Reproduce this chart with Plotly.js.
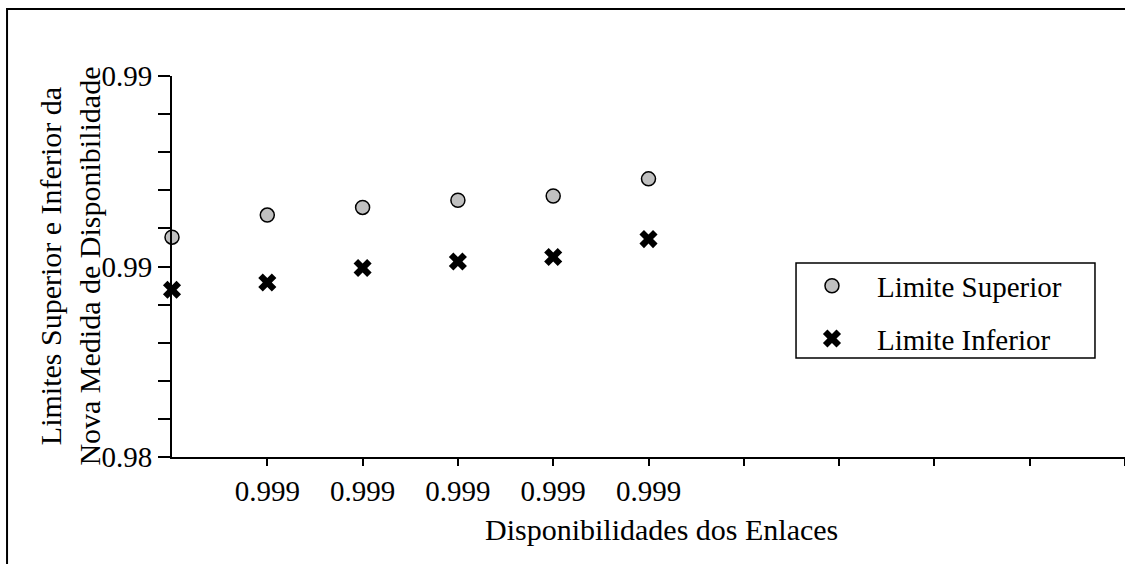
<!DOCTYPE html>
<html>
<head>
<meta charset="utf-8">
<script src="https://cdn.plot.ly/plotly-3.0.1.min.js"></script>
<style>html,body{margin:0;padding:0;background:#fff;}#chart{width:1125px;height:564px;}</style>
</head>
<body>
<div id="chart"></div>
<script>
// ---- data ----
const xPositions = [0, 1, 2, 3, 4, 5];
const xTickVals = [1, 2, 3, 4, 5, 6, 7, 8, 9, 10];
const xTickText = ['0.999', '0.999', '0.999', '0.999', '0.999', '', '', '', '', ''];
const limiteSuperior = [0.99077, 0.99135, 0.99155, 0.99174, 0.99185, 0.99230];
const limiteInferior = [0.98939, 0.98958, 0.98996, 0.99013, 0.99025, 0.99072];
const yTickVals = [0.985, 0.990, 0.995];
const yTickText = ['0.98', '0.99', '0.99'];
const seriesNames = ['Limite Superior', 'Limite Inferior'];
const xTitle = 'Disponibilidades dos Enlaces';
const yTitle = 'Limites Superior e Inferior da<br>Nova Medida de Disponibilidade';

const FONT = 'Liberation Serif, Times New Roman, serif';

const traces = [
  {
    x: xPositions, y: limiteSuperior, name: seriesNames[0], type: 'scatter', mode: 'markers',
    legendgroup: 'a', cliponaxis: false,
    marker: {symbol: 'circle', size: 14, color: '#c0c0c0', line: {color: '#000', width: 1.5}}
  },
  {
    x: xPositions, y: limiteInferior, name: seriesNames[1], type: 'scatter', mode: 'markers',
    legendgroup: 'b', cliponaxis: false,
    marker: {symbol: 'x', size: 16, color: '#000', line: {width: 0}}
  }
];

const layout = {
  width: 1125, height: 564,
  margin: {l: 172, r: 0, t: 76, b: 107, pad: 0},
  paper_bgcolor: '#fff', plot_bgcolor: '#fff',
  font: {family: FONT, size: 29, color: '#000'},
  showlegend: true,
  legend: {
    x: 0.6453, y: 0.516, xanchor: 'left', yanchor: 'top',
    bgcolor: 'rgba(0,0,0,0)', borderwidth: 0,
    itemwidth: 80, tracegroupgap: 12,
    font: {family: FONT, size: 29, color: '#000'}
  },
  xaxis: {
    range: [0, 10], showgrid: false, zeroline: false,
    showline: true, linecolor: '#000', linewidth: 2,
    ticks: 'outside', ticklen: 7, tickwidth: 2, tickcolor: '#000',
    tickmode: 'array', tickvals: xTickVals, ticktext: xTickText,
    ticklabelstandoff: 0,
    tickfont: {family: FONT, size: 29, color: '#000'}
  },
  yaxis: {
    range: [0.985, 0.995], showgrid: false, zeroline: false,
    showline: true, linecolor: '#000', linewidth: 2,
    ticks: 'outside', ticklen: 12, tickwidth: 2, tickcolor: '#000',
    tickmode: 'array', tickvals: yTickVals, ticktext: yTickText,
    minor: {tickmode: 'linear', tick0: 0.985, dtick: 0.001, ticks: 'outside', ticklen: 12, tickwidth: 2, tickcolor: '#000', showgrid: false},
    tickfont: {family: FONT, size: 29, color: '#000'}
  },
  shapes: [
    {type: 'rect', xref: 'paper', yref: 'paper', x0: -0.1731, x1: 1.05, y0: -0.5, y1: 1.1759,
     line: {color: '#000', width: 2}, fillcolor: 'rgba(0,0,0,0)', layer: 'below'},
    {type: 'rect', xref: 'paper', yref: 'paper', x0: 0.6548, x1: 0.9685, y0: 0.2598, y1: 0.5092,
     line: {color: '#000', width: 1.5}, fillcolor: '#fff', layer: 'below'}
  ],
  annotations: [
    {text: yTitle, xref: 'paper', yref: 'paper', x: -0.1065, y: 0.501, xanchor: 'center', yanchor: 'middle',
     textangle: -90, showarrow: false, font: {family: FONT, size: 30, color: '#000'}},
    {text: xTitle, xref: 'paper', yref: 'paper', x: 0.514, y: -0.19, xanchor: 'center', yanchor: 'middle',
     showarrow: false, font: {family: FONT, size: 30, color: '#000'}}
  ]
};

Plotly.newPlot('chart', traces, layout, {displayModeBar: false, staticPlot: true});
</script>
</body>
</html>
